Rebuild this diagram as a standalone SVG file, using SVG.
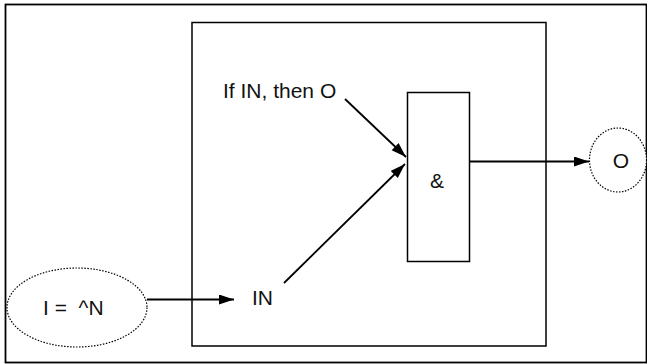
<svg xmlns="http://www.w3.org/2000/svg" width="647" height="364" viewBox="0 0 647 364">
<style>
.box{fill:none;stroke:#000;stroke-width:1.5}
.dot{fill:#fff;stroke:#000;stroke-width:1.2;stroke-dasharray:1.5 1.5}
.lbl{font-family:"Liberation Sans",Arial,sans-serif;font-size:21px;fill:#111;white-space:pre}
.con{stroke:#000;stroke-width:1.8;fill:none}
</style>
<defs>
<marker id="ah" markerUnits="userSpaceOnUse" markerWidth="16" markerHeight="12" refX="15" refY="5" orient="auto">
<path d="M0,0 L15,5 L0,10 Z" fill="#000"/>
</marker>
</defs>
<rect x="5.5" y="4.5" width="641" height="358" fill="#fff" stroke="#000" stroke-width="1.8"/>
<g id="container"><rect class="box" x="192" y="22.5" width="354" height="323.5"/></g>
<g id="connectors">
<line class="con" x1="147" y1="299.5" x2="234" y2="299.5" marker-end="url(#ah)"/>
<line class="con" x1="345" y1="99" x2="406" y2="157" marker-end="url(#ah)"/>
<line class="con" x1="284" y1="283" x2="405" y2="164" marker-end="url(#ah)"/>
<line class="con" x1="469" y1="161.5" x2="589" y2="161.5" marker-end="url(#ah)"/>
</g>
<g id="input"><ellipse class="dot" cx="77" cy="307.5" rx="70" ry="39.5"/><text class="lbl" x="43" y="315" xml:space="preserve">I =  ^N</text></g>
<g id="in-label"><text class="lbl" x="252" y="305">IN</text></g>
<g id="rule-label"><text class="lbl" x="223" y="98">If IN, then O</text></g>
<g id="and-gate"><rect x="407.5" y="92.5" width="62" height="169" fill="#fff" stroke="#000" stroke-width="1.5"/><text class="lbl" x="437" y="188" text-anchor="middle">&amp;</text></g>
<g id="output"><ellipse class="dot" cx="618" cy="160" rx="28.5" ry="32"/><text class="lbl" x="621" y="168" text-anchor="middle">O</text></g>
</svg>
